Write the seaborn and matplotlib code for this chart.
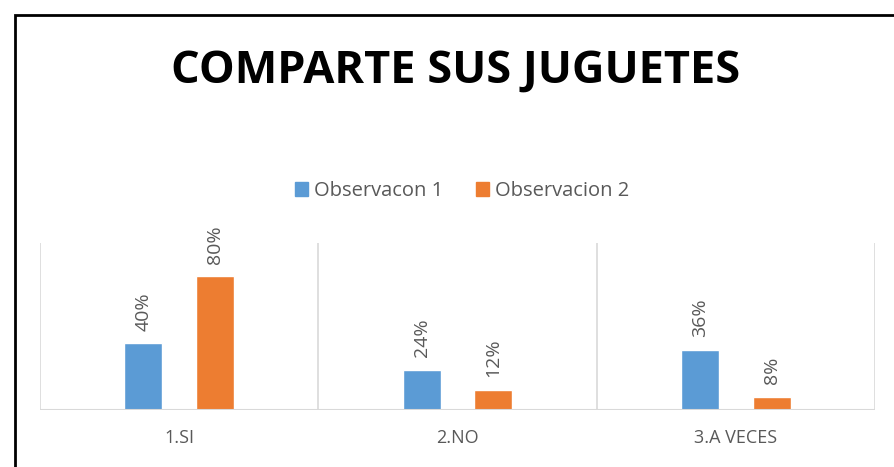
import numpy as np
import pandas as pd
import matplotlib
matplotlib.use('Agg')
import matplotlib.pyplot as plt
import seaborn as sns
from matplotlib.patches import Rectangle

# datos
categorias = ['1.SI', '2.NO', '3.A VECES']
obs1 = [0.40, 0.24, 0.36]
obs2 = [0.80, 0.12, 0.08]
series = ['Observacon 1', 'Observacion 2']

df = pd.DataFrame({
    'cat': categorias * 2,
    'serie': [series[0]] * 3 + [series[1]] * 3,
    'valor': obs1 + obs2,
})

sns.set_style('white')
plt.rcParams['font.family'] = ['Open Sans', 'DejaVu Sans']

gris = '#595959'
fig = plt.figure(figsize=(8.95, 4.67), dpi=100)
ax = fig.add_axes([40 / 895, 1 - 410 / 467, 835 / 895, 167 / 467])

sns.barplot(data=df, x='cat', y='valor', hue='serie', order=categorias,
            hue_order=series, palette=['#5B9BD5', '#ED7D31'],
            width=0.516, gap=0.47, saturation=1, ax=ax, legend=False)

ax.set_xlim(-0.5, 2.5)
ax.set_ylim(0, 1.0)
for s in ax.spines.values():
    s.set_visible(False)
for x in [-0.5, 0.5, 1.5, 2.5]:
    ax.axvline(x, color='#d9d9d9', lw=1.2)
ax.axhline(0, color='#d9d9d9', lw=1.5)
ax.set_yticks([])
ax.set_xlabel('')
ax.set_ylabel('')
ax.tick_params(axis='x', length=0, pad=14, labelsize=13, labelcolor=gris)

for p in ax.patches:
    h = p.get_height()
    if h <= 0:
        continue
    ax.annotate(f'{h * 100:.0f}%', (p.get_x() + p.get_width() / 2, h),
                xytext=(0, 9), textcoords='offset points', rotation=90,
                ha='center', va='bottom', fontsize=14, color=gris)

# leyenda
handles = [Rectangle((0, 0), 1, 1, color=c) for c in ['#5B9BD5', '#ED7D31']]
fig.legend(handles, series, loc='center', bbox_to_anchor=(462 / 895, 1 - 191 / 467),
           ncol=2, frameon=False, fontsize=14.5, labelcolor=gris,
           handlelength=0.65, handleheight=0.65, handletextpad=0.3, columnspacing=1.6)

fig.text(456 / 895, 1 - 71 / 467, 'COMPARTE SUS JUGUETES', ha='center', va='center',
         fontsize=32.5, fontweight='bold', color='black')

# marco negro
fig.patches.append(Rectangle((15 / 895, -0.1), 1.2, 1 - 15 / 467 + 0.1,
                             transform=fig.transFigure, fill=False,
                             edgecolor='black', lw=2))

fig.savefig('out.png', dpi=100)
